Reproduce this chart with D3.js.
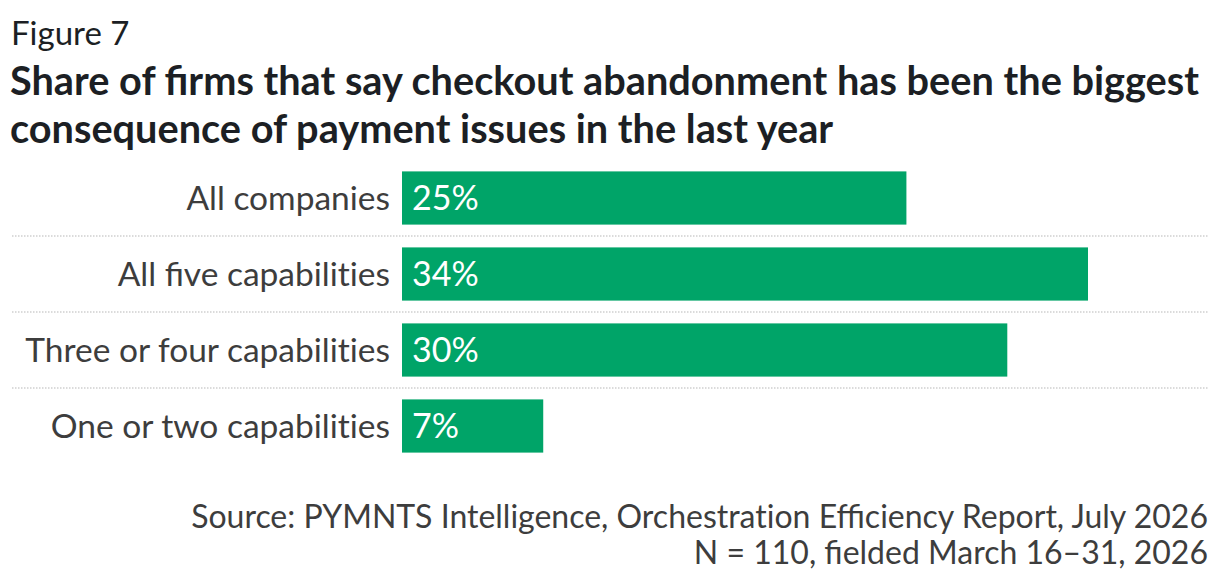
<!DOCTYPE html>
<html>
<head>
<meta charset="utf-8">
<script src="https://cdn.jsdelivr.net/npm/d3@7"></script>
<style>
  body { margin: 0; background: #fff; }
  svg { display: block; font-family: Lato, "Noto Sans", sans-serif; }
</style>
</head>
<body>
<div id="chart"></div>
<script>
var figureLabel = 'Figure 7';
var titleLines = [
    'Share of firms that say checkout abandonment has been the biggest',
    'consequence of payment issues in the last year'
];
var categories = ['All companies', 'All five capabilities', 'Three or four capabilities', 'One or two capabilities'];
var values = [25, 34, 30, 7];
var sourceLines = [
    'Source: PYMNTS Intelligence, Orchestration Efficiency Report, July 2026',
    'N = 110, fielded March 16\u201331, 2026'
];

var width = 1220,
    height = 582;

// keep the "ti" pair from turning into a ligature
function noTi(s) { return s.replace(/ti/g, 't\u200Ci'); }

var svg = d3.select('#chart').append('svg')
    .attr('width', width)
    .attr('height', height);

svg.append('text')
    .attr('x', 11)
    .attr('y', 45)
    .attr('font-size', 33)
    .attr('fill', '#1c1f24')
    .text(figureLabel);

svg.selectAll('.title')
    .data(titleLines)
    .enter().append('text')
    .attr('class', 'title')
    .attr('x', 10)
    .attr('y', (d, i) => 95 + i * 48)
    .attr('font-size', 39.7)
    .attr('font-weight', 700)
    .attr('fill', '#1c1f24')
    .text(d => noTi(d));

var x = d3.scaleLinear()
    .domain([0, 34])
    .range([402, 1088]);

var y = d3.scaleBand()
    .domain(categories)
    .range([160, 464])
    .paddingInner(0.3)
    .paddingOuter(0.15);

// dotted separators between rows
var seps = categories.slice(1).map(c => y(c) - y.step() * y.paddingInner() / 2);
svg.selectAll('.sep')
    .data(seps)
    .enter().append('line')
    .attr('class', 'sep')
    .attr('x1', 12)
    .attr('x2', 1208)
    .attr('y1', d => d)
    .attr('y2', d => d)
    .attr('stroke', '#d0d0d0')
    .attr('stroke-width', 1.5)
    .attr('stroke-dasharray', '1.5,1.5');

var rows = svg.selectAll('.row')
    .data(categories.map((c, i) => ({ cat: c, val: values[i] })))
    .enter().append('g')
    .attr('class', 'row');

rows.append('rect')
    .attr('x', x(0))
    .attr('y', d => y(d.cat))
    .attr('width', d => x(d.val) - x(0))
    .attr('height', y.bandwidth())
    .attr('fill', '#00a468');

rows.append('text')
    .attr('x', 390)
    .attr('y', d => y(d.cat) + y.bandwidth() / 2)
    .attr('dy', '0.36em')
    .attr('text-anchor', 'end')
    .attr('font-size', 33.5)
    .attr('fill', '#3d3d3d')
    .text(d => noTi(d.cat));

rows.append('text')
    .attr('x', x(0) + 10)
    .attr('y', d => y(d.cat) + y.bandwidth() / 2)
    .attr('dy', '0.36em')
    .attr('font-size', 34)
    .attr('fill', '#fff')
    .text(d => d.val + '%');

svg.selectAll('.source')
    .data(sourceLines)
    .enter().append('text')
    .attr('class', 'source')
    .attr('x', 1208)
    .attr('y', (d, i) => 528 + i * 36)
    .attr('text-anchor', 'end')
    .attr('font-size', 32)
    .attr('fill', '#3d3d3d')
    .text(d => noTi(d));
</script>
</body>
</html>
